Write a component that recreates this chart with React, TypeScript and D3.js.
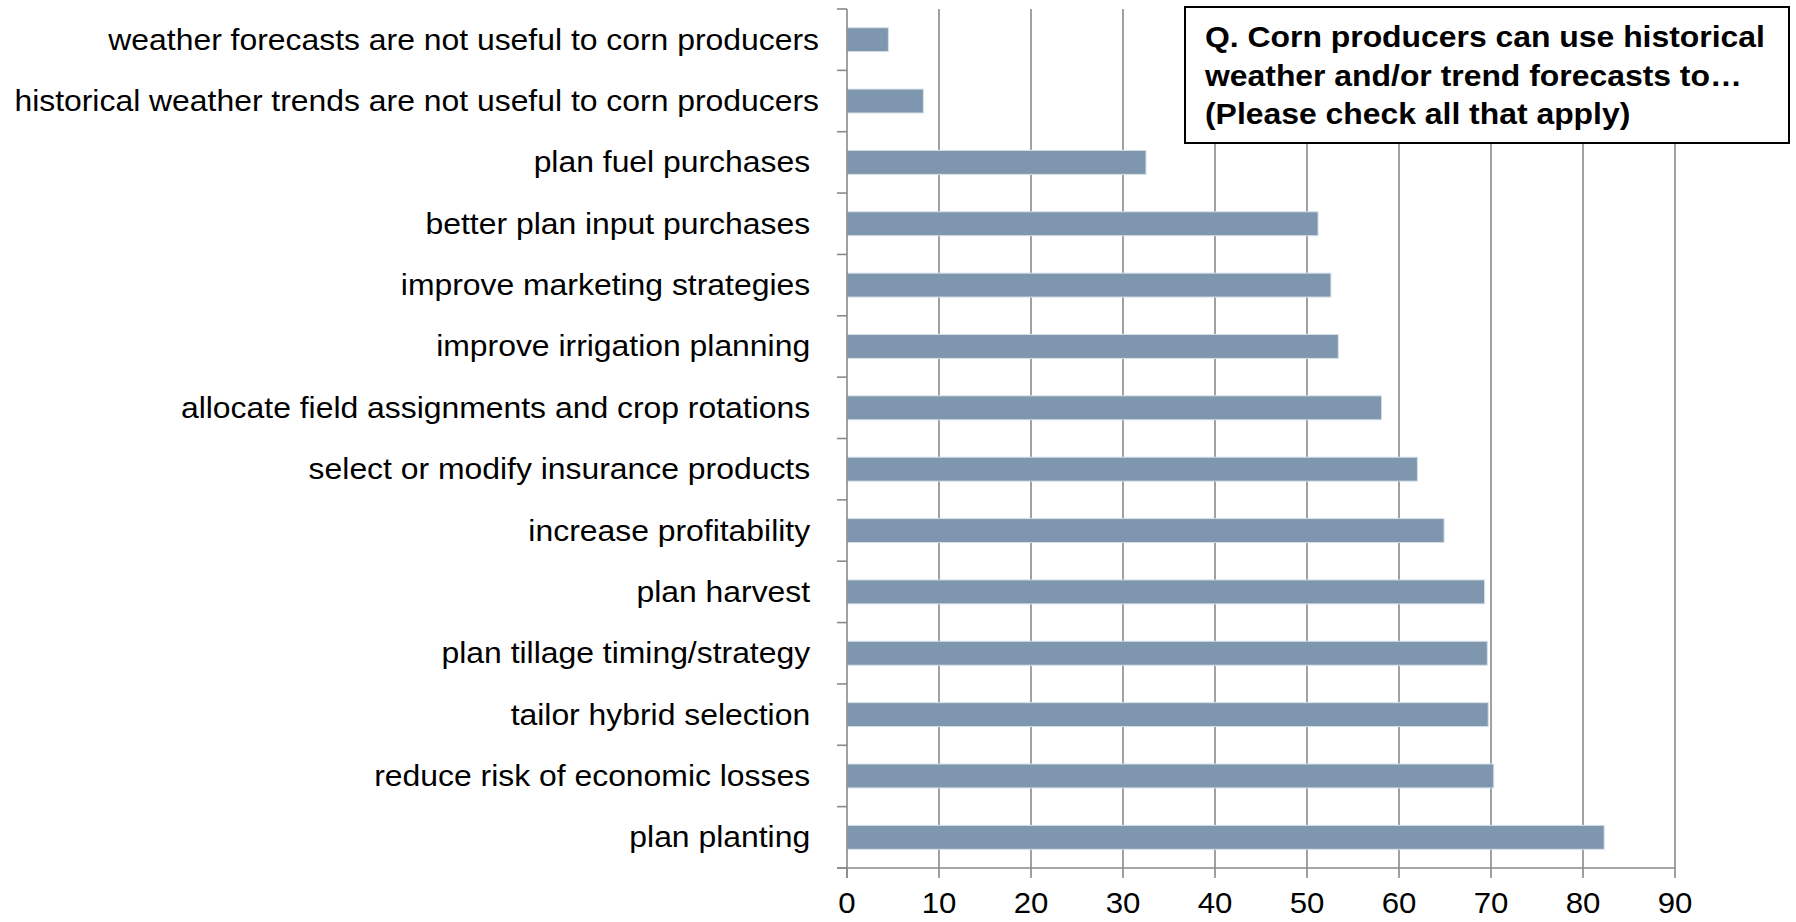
import React from 'react';
import * as d3 from 'd3';

// survey answers, top to bottom as drawn
const categories = [
  'weather forecasts are not useful to corn producers',
  'historical weather trends are not useful to corn producers',
  'plan fuel purchases ',
  'better plan input purchases ',
  'improve marketing strategies ',
  'improve irrigation planning ',
  'allocate field assignments and crop rotations ',
  'select or modify insurance products ',
  'increase profitability ',
  'plan harvest ',
  'plan tillage timing/strategy ',
  'tailor hybrid selection ',
  'reduce risk of economic losses ',
  'plan planting ',
];
const values = [4.5, 8.3, 32.5, 51.2, 52.6, 53.4, 58.1, 62.0, 64.9, 69.3, 69.6, 69.7, 70.3, 82.3];
const xTicks = [0, 10, 20, 30, 40, 50, 60, 70, 80, 90];
const titleLines = [
  'Q. Corn producers can use historical',
  'weather and/or trend forecasts to…',
  '(Please check all that apply)',
];

const width = 1796;
const height = 922;
const margin = { top: 9, right: 121, bottom: 54, left: 847 };
const font = 'Arial, "Liberation Sans", sans-serif';
const sx = 1.1; // text in the source is a little wide

export default function App() {
  const x = d3
    .scaleLinear()
    .domain([0, 90])
    .range([margin.left, width - margin.right]);

  const y = d3
    .scaleBand()
    .domain(categories)
    .range([margin.top, height - margin.bottom])
    .padding(0);

  const barH = y.bandwidth() * 0.39;
  const bottom = height - margin.bottom;
  const boundaries = d3.range(categories.length + 1).map((i) => margin.top + i * y.step());

  return (
    <svg
      width={width}
      height={height}
      style={{ position: 'absolute', left: 0, top: 0, background: '#fff' }}
    >
      {/* vertical gridlines */}
      <g stroke="#8a8a8a" strokeWidth={1.6}>
        {xTicks.slice(1).map((t) => (
          <line key={t} x1={x(t)} x2={x(t)} y1={margin.top} y2={bottom} />
        ))}
      </g>

      {/* bars */}
      <g fill="#7f97ae" stroke="#d6dfe8" strokeWidth={1}>
        {categories.map((c, i) => (
          <rect
            key={c}
            x={x(0)}
            y={(y(c) as number) + (y.bandwidth() - barH) / 2}
            width={x(values[i]) - x(0)}
            height={barH}
          />
        ))}
      </g>

      {/* y axis */}
      <g stroke="#8a8a8a" strokeWidth={1.6}>
        <line x1={x(0)} x2={x(0)} y1={margin.top} y2={bottom + 10} />
        {boundaries.map((b, i) => (
          <line key={i} x1={x(0) - 10} x2={x(0)} y1={b} y2={b} />
        ))}
      </g>

      {/* x axis */}
      <g stroke="#8a8a8a" strokeWidth={1.6}>
        <line x1={x(0) - 10} x2={x(90)} y1={bottom} y2={bottom} />
        {xTicks.map((t) => (
          <line key={t} x1={x(t)} x2={x(t)} y1={bottom} y2={bottom + 10} />
        ))}
      </g>

      <g fontFamily={font} fill="#000">
        {xTicks.map((t) => (
          <text
            key={t}
            fontSize={30}
            textAnchor="middle"
            transform={`translate(${x(t)},${bottom + 45}) scale(1.04,1)`}
          >
            {t}
          </text>
        ))}
        {categories.map((c) => (
          <text
            key={c}
            fontSize={29}
            textAnchor="end"
            style={{ whiteSpace: 'pre' }}
            transform={`translate(${x(0) - 28},${(y(c) as number) + y.bandwidth() / 2 + 10}) scale(${sx},1)`}
          >
            {c}
          </text>
        ))}
      </g>

      {/* question box */}
      <rect x={1185} y={7} width={604} height={136} fill="#fff" stroke="#000" strokeWidth={2} />
      <g fontFamily={font} fontSize={29} fontWeight="bold" fill="#000">
        {titleLines.map((l, i) => (
          <text key={i} transform={`translate(1205,${47 + i * 38.5}) scale(1.1,1)`}>
            {l}
          </text>
        ))}
      </g>
    </svg>
  );
}
